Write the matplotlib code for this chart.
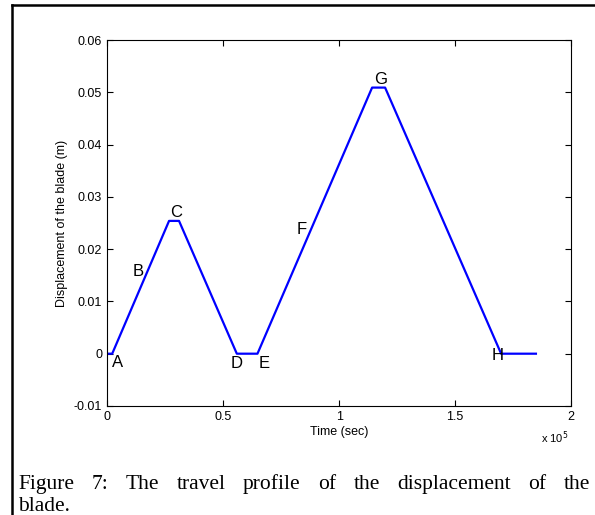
import matplotlib
matplotlib.use('Agg')
import matplotlib.pyplot as plt
from matplotlib.ticker import FuncFormatter
from matplotlib.lines import Line2D

# travel profile vertices (time in sec, displacement in m)
time_pts = [0, 2200, 26700, 31000, 55900, 64800, 114200, 119800, 169800, 184800]
disp_pts = [0, 0, 0.0254, 0.0254, 0, 0, 0.0509, 0.0509, 0, 0]

# point labels and where they sit
point_names = ['A', 'B', 'C', 'D', 'E', 'F', 'G', 'H']
name_x = [4700, 13400, 29700, 56000, 67700, 84000, 117700, 168500]
name_y = [-0.0016, 0.0158, 0.0271, -0.0018, -0.0018, 0.0237, 0.0525, -0.0004]

x_ticks = [0, 50000, 100000, 150000, 200000]
y_ticks = [-0.01, 0, 0.01, 0.02, 0.03, 0.04, 0.05, 0.06]

caption_1 = 'Figure 7: The travel profile of the displacement of the'
caption_2 = 'blade.'

plt.rcParams['font.family'] = ['Liberation Sans', 'DejaVu Sans']

fig = plt.figure(figsize=(5.95, 5.15), dpi=100)
ax = fig.add_axes([0.18, 0.2117, 0.78, 0.7106])

ax.plot(time_pts, disp_pts, color='#0000ff', lw=1.6)
for n, tx, ty in zip(point_names, name_x, name_y):
    ax.text(tx, ty, n, fontsize=12, ha='center', va='center')

ax.set_xlim(0, 200000)
ax.set_ylim(-0.01, 0.06)
ax.set_xticks(x_ticks)
ax.set_yticks(y_ticks)
ax.xaxis.set_major_formatter(FuncFormatter(lambda v, p: '%g' % (v / 1e5)))
ax.yaxis.set_major_formatter(FuncFormatter(lambda v, p: '%g' % v))
ax.tick_params(direction='in', top=True, right=True, length=4, labelsize=9, width=0.8)
for s in ax.spines.values():
    s.set_linewidth(0.8)

ax.set_xlabel('Time (sec)', fontsize=9, labelpad=2)
ax.set_ylabel('Displacement of the blade (m)', fontsize=9, labelpad=4)
fig.text(555 / 595, 1 - 438 / 515, r'x 10$^5$', fontsize=8, ha='center', va='center')

# surrounding frame of the page figure
fig.add_artist(Line2D([12 / 595, 12 / 595], [0, 1 - 5 / 515], transform=fig.transFigure, color='black', lw=1.8))
fig.add_artist(Line2D([12 / 595, 1], [1 - 5 / 515, 1 - 5 / 515], transform=fig.transFigure, color='black', lw=1.8))

# caption, first line justified between left and right margins
cap_font = ['Liberation Serif', 'DejaVu Serif']
cap_size = 15.5
W, H = 595.0, 515.0
left_px, right_px = 18.0, 590.0
renderer = fig.canvas.get_renderer()
words = caption_1.split()
txts = [fig.text(0, 1 - 489 / H, w, fontsize=cap_size, family=cap_font, ha='left', va='baseline')
        for w in words]
widths = [t.get_window_extent(renderer).width for t in txts]
gap = (right_px - left_px - sum(widths)) / (len(words) - 1)
xpos = left_px
for t, w in zip(txts, widths):
    t.set_x(xpos / W)
    xpos += w + gap
fig.text(left_px / W, 1 - 511 / H, caption_2, fontsize=cap_size, family=cap_font, ha='left', va='baseline')

fig.savefig('out.png', dpi=100)
